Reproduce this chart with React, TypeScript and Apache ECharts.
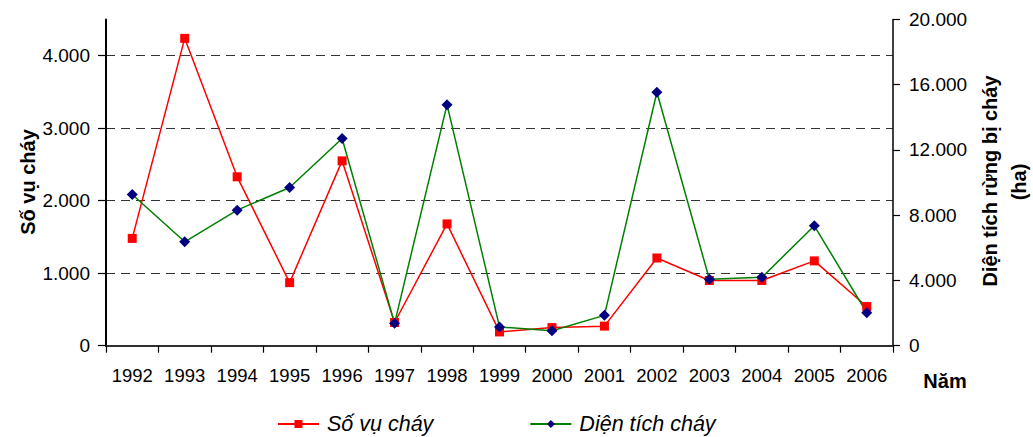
import React, { useEffect, useRef } from "react";
import * as echarts from "echarts";

const years = ["1992", "1993", "1994", "1995", "1996", "1997", "1998", "1999", "2000", "2001", "2002", "2003", "2004", "2005", "2006"];
const soVuChay = [1480, 4240, 2330, 870, 2550, 320, 1680, 190, 250, 270, 1210, 900, 900, 1170, 540];
const dienTichChay = [9270, 6370, 8310, 9700, 12700, 1370, 14780, 1150, 920, 1860, 15540, 4070, 4190, 7350, 2020];

const seriesNames = ["Số vụ cháy", "Diện tích cháy"];
const leftAxisName = "Số vụ cháy";
const rightAxisName1 = "Diện tích rừng bị cháy";
const rightAxisName2 = "(ha)";
const xAxisName = "Năm";

const FONT = "'Liberation Sans', Arial, sans-serif";

function fmt(v: number): string {
  return String(v).replace(/\B(?=(\d{3})+(?!\d))/g, ".");
}

export default function App() {
  const ref = useRef<HTMLDivElement>(null);
  useEffect(() => {
    document.body.style.margin = "0";
    if (!ref.current) return;
    const chart = echarts.init(ref.current, undefined, { renderer: "svg" });
    chart.setOption({
      animation: false,
      backgroundColor: "#ffffff",
      grid: { left: 106, right: 140, top: 19.5, bottom: 91.3 },
      legend: {
        left: 277,
        top: 413,
        padding: 0,
        itemWidth: 41,
        itemHeight: 10,
        itemGap: 96,
        data: seriesNames,
        textStyle: { fontStyle: "italic", fontSize: 21.5, fontFamily: FONT, color: "#000", padding: [0, 0, 0, 3] },
      },
      xAxis: [
        {
          type: "category",
          data: years,
          position: "bottom",
          axisLine: { lineStyle: { color: "#000", width: 2 } },
          axisTick: { show: true, interval: 0, length: 7, lineStyle: { color: "#000", width: 1.2 } },
          axisLabel: { interval: 0, hideOverlap: false, fontSize: 18.5, fontFamily: FONT, color: "#000", margin: 20 },
        },
        {
          type: "category",
          data: years,
          position: "top",
          axisLine: { lineStyle: { color: "#404040", width: 1.5 } },
          axisTick: { show: false },
          axisLabel: { show: false },
        },
      ],
      yAxis: [
        {
          type: "value",
          min: 0,
          max: 4500,
          interval: 1000,
          position: "left",
          axisLine: { show: true, lineStyle: { color: "#000", width: 2 } },
          axisTick: { show: true, length: 8, lineStyle: { color: "#000", width: 1.2 } },
          axisLabel: {
            fontSize: 19,
            fontFamily: FONT,
            color: "#000",
            margin: 16,
            showMaxLabel: false,
            formatter: (v: number) => (v > 4000 ? "" : fmt(v)),
          },
          splitLine: {
            show: true,
            lineStyle: {
              color: ["#333", "#333", "#333", "#333", "#333", "rgba(0,0,0,0)"],
              type: [9, 6],
              width: 1,
            },
          },
        },
        {
          type: "value",
          min: 0,
          max: 20000,
          interval: 4000,
          position: "right",
          axisLine: { show: true, lineStyle: { color: "#000", width: 1.5 } },
          axisTick: { show: true, length: 7, lineStyle: { color: "#000", width: 1.2 } },
          axisLabel: { fontSize: 19, fontFamily: FONT, color: "#000", margin: 16, formatter: (v: number) => fmt(v) },
          splitLine: { show: false },
        },
      ],
      series: [
        {
          name: seriesNames[0],
          type: "line",
          data: soVuChay,
          xAxisIndex: 0,
          yAxisIndex: 0,
          symbol: "rect",
          symbolSize: 9,
          color: "#ff0000",
          lineStyle: { color: "#ff0000", width: 1.5 },
          itemStyle: { color: "#ff0000" },
        },
        {
          name: seriesNames[1],
          type: "line",
          data: dienTichChay,
          xAxisIndex: 0,
          yAxisIndex: 1,
          symbol: "diamond",
          symbolSize: 11,
          color: "#000080",
          lineStyle: { color: "#008000", width: 1.5 },
          itemStyle: { color: "#000080" },
        },
      ],
      graphic: [
        {
          type: "text",
          x: 28,
          y: 182,
          rotation: Math.PI / 2,
          style: { text: leftAxisName, font: `bold 20px ${FONT}`, fill: "#000", align: "center", verticalAlign: "middle" },
        },
        {
          type: "text",
          x: 990,
          y: 181,
          rotation: Math.PI / 2,
          style: { text: rightAxisName1, font: `bold 20px ${FONT}`, fill: "#000", align: "center", verticalAlign: "middle" },
        },
        {
          type: "text",
          x: 1019,
          y: 182,
          rotation: Math.PI / 2,
          style: { text: rightAxisName2, font: `bold 20px ${FONT}`, fill: "#000", align: "center", verticalAlign: "middle" },
        },
        {
          type: "text",
          x: 945,
          y: 381,
          style: { text: xAxisName, font: `bold 20px ${FONT}`, fill: "#000", align: "center", verticalAlign: "middle" },
        },
      ],
    });
    return () => chart.dispose();
  }, []);
  return <div ref={ref} style={{ width: 1033, height: 437 }} />;
}
